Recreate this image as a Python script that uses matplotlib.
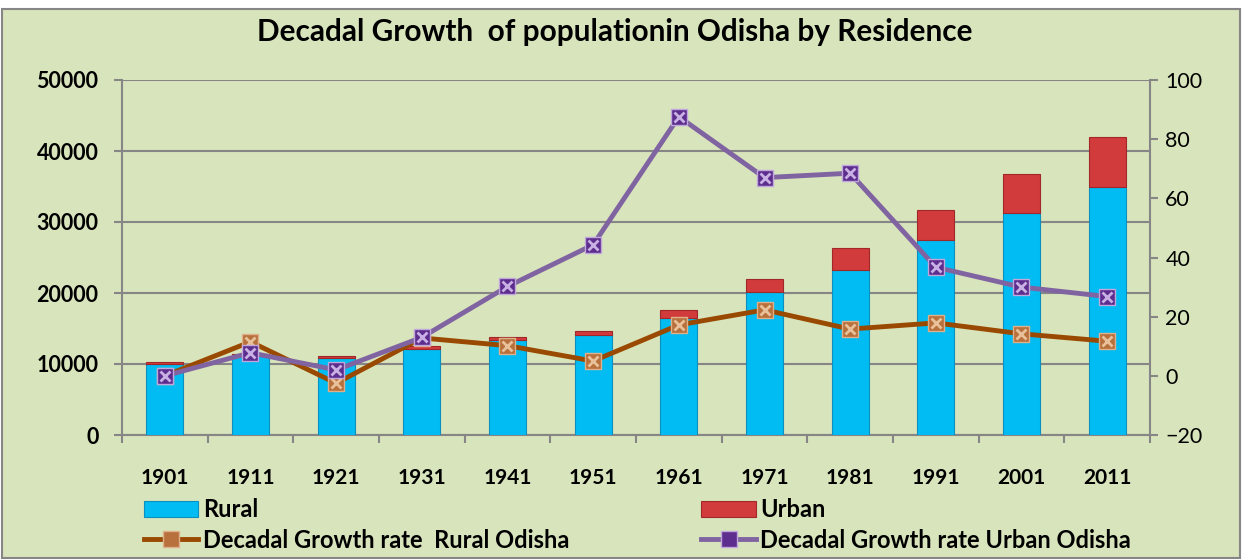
import numpy as np
import matplotlib.pyplot as plt
from matplotlib.patches import Rectangle

plt.rcParams['font.family'] = ['Lato', 'DejaVu Sans']

years = ['1901', '1911', '1921', '1931', '1941', '1951',
         '1961', '1971', '1981', '1991', '2001', '2011']
# population in thousands
rural = [10047, 11089, 10878, 12174, 13359, 14052,
         16440, 20100, 23260, 27425, 31309, 34970]
urban = [255, 290, 281, 317, 409, 594,
         1109, 1845, 3110, 4235, 5496, 7004]
# decadal growth rate (%)
rate_rural = [0, 11.5, -2.5, 12.8, 10.2, 5.0, 17.2, 22.3, 15.8, 17.9, 14.2, 11.7]
rate_urban = [0, 7.8, 2.0, 13.0, 30.2, 44.3, 87.6, 67.0, 68.5, 36.7, 30.0, 26.8]

bg = '#d8e4bc'
grid = '#868686'

fig = plt.figure(figsize=(12.44, 5.6), dpi=100)
fig.patch.set_facecolor('white')
fig.patches.append(Rectangle((2 / 1244, 2 / 560), 1238 / 1244, 549 / 560,
                             transform=fig.transFigure, facecolor=bg,
                             edgecolor=grid, linewidth=1.5, zorder=-10))

ax = fig.add_axes([122 / 1244, 1 - 435 / 560, 1028 / 1244, 355 / 560])
ax.set_facecolor(bg)
ax.patch.set_alpha(0)

x = np.arange(len(years))
w = 0.43
b1 = ax.bar(x, rural, width=w, color='#00bcf2', edgecolor='#0a8fbf',
            linewidth=0.8, label='Rural', zorder=3)
b2 = ax.bar(x, urban, width=w, bottom=rural, color='#d23b3b',
            edgecolor='#a02828', linewidth=0.8, label='Urban', zorder=3)

ax.set_xlim(-0.5, len(years) - 0.5)
ax.set_ylim(0, 50000)
ax.set_yticks(range(0, 50001, 10000))
ax.yaxis.grid(True, color=grid, linewidth=1.5, zorder=0)
ax.set_axisbelow(True)
for s in ['top', 'right']:
    ax.spines[s].set_visible(False)
for s in ['left', 'bottom']:
    ax.spines[s].set_color(grid)
    ax.spines[s].set_linewidth(1.5)
ax.set_xticks(x)
ax.set_xticklabels(years, fontsize=15, fontweight='bold')
ax.set_xticks(np.arange(-0.5, len(years), 1), minor=True)
ax.tick_params(axis='x', which='major', length=0, pad=24)
ax.tick_params(axis='x', which='minor', length=6, color=grid, width=1.5)
ax.tick_params(axis='y', length=6, color=grid, width=1.5, pad=11)
for t in ax.get_yticklabels():
    t.set_fontsize(15.5)
    t.set_fontweight('bold')

ax2 = ax.twinx()
ax2.set_ylim(-20, 100)
ax2.set_yticks(range(-20, 101, 20))
for s in ['top', 'left', 'bottom']:
    ax2.spines[s].set_visible(False)
ax2.spines['right'].set_color(grid)
ax2.spines['right'].set_linewidth(1.5)
ax2.tick_params(axis='y', length=6, color=grid, width=1.5, pad=5, labelsize=15.5)

l1, = ax2.plot(x, rate_rural, color='#9a4a00', linewidth=3.5, marker='s',
               markersize=11, markerfacecolor='#b8703c', markeredgecolor='#e0b08a',
               markeredgewidth=1, zorder=4)
ax2.plot(x, rate_rural, linestyle='none', marker='x', markersize=7,
         markeredgecolor='#e8c09a', markeredgewidth=2, zorder=4.1)
l2, = ax2.plot(x, rate_urban, color='#8064a2', linewidth=3.5, marker='s',
               markersize=11, markerfacecolor='#5e2e8e', markeredgecolor='#c0a8dc',
               markeredgewidth=1, zorder=5)
ax2.plot(x, rate_urban, linestyle='none', marker='x', markersize=7,
         markeredgecolor='#c8b0e4', markeredgewidth=2, zorder=5.1)

fig.text(0.494, 1 - 32 / 560, 'Decadal Growth  of populationin Odisha by Residence',
         ha='center', va='center', fontsize=21.4, fontweight='bold')

leg = fig.legend([b1, l1, b2, l2],
                 ['Rural', 'Decadal Growth rate  Rural Odisha',
                  'Urban', 'Decadal Growth rate Urban Odisha'],
                 ncol=2, loc='center left', bbox_to_anchor=(132 / 1244, 1 - 525 / 560),
                 frameon=False, prop={'size': 17, 'weight': 'bold'},
                 handlelength=2.3, handletextpad=0.2, columnspacing=5.6,
                 labelspacing=0.3, borderpad=0)

fig.savefig('out.png', dpi=100, facecolor=fig.get_facecolor())
